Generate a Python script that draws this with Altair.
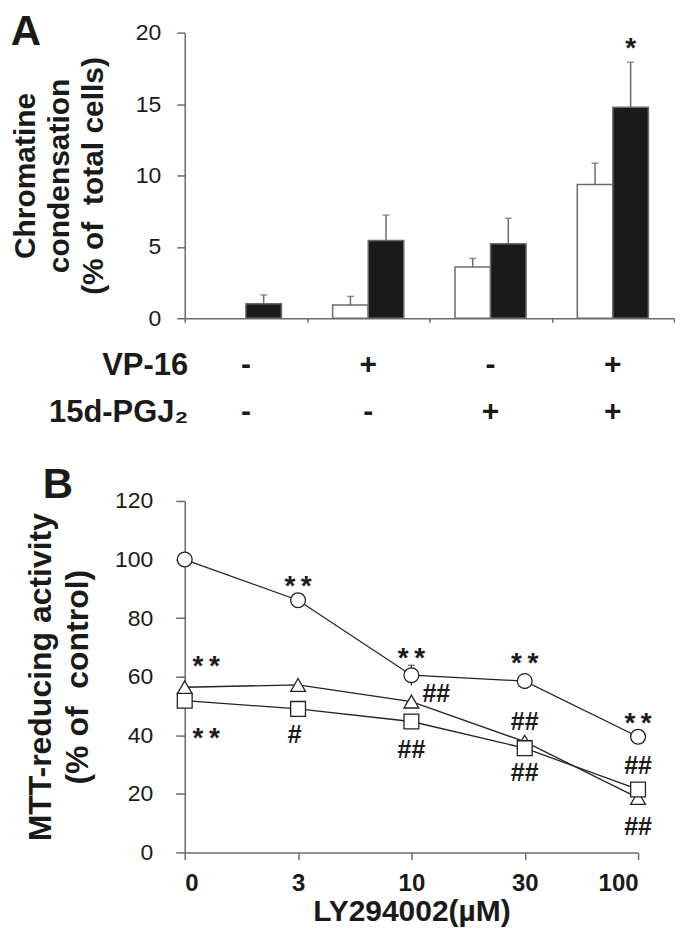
import altair as alt
import pandas as pd

FONT = "Liberation Sans, Arial, Helvetica, sans-serif"
INK = "#1a1a1a"
AXIS_GREY = "#6b6b6b"
NB = "\u00a0"

# ---------------- Panel A data ----------------
groups = ["g1", "g2", "g3", "g4"]
vp16_signs = ["-", "+", "-", "+"]
pgj2_signs = ["-", "-", "+", "+"]
factors = ["VP-16", "15d-PGJ\u2082"]
series_a = ["white", "black"]
white_vals = [None, 0.93, 3.58, 9.37]
white_errs = [None, 0.60, 0.61, 1.49]
black_vals = [1.02, 5.44, 5.21, 14.77]
black_errs = [0.61, 1.79, 1.79, 3.16]
star_a_group = ["g4"]
star_a_series = ["black"]
star_a_y = [19.4]

# ---------------- Panel B data ----------------
doses = ["0", "3", "10", "30", "100"]
series_b = ["circle", "triangle", "square"]
circle_vals = [100.0, 86.1, 60.5, 58.5, 39.5]
triangle_vals = [56.4, 57.2, 51.5, 37.8, 18.6]
square_vals = [51.8, 49.0, 44.7, 35.6, 21.5]
circle_err_idx = [2]
circle_err_lo = [57.0]
circle_err_hi = [63.9]
star_b_text = ["*\u2009*"] * 6
star_b_x = [0.19, 0.19, 1.0, 2.0, 3.0, 4.0]
star_b_y = [66.0, 41.5, 93.3, 68.8, 67.1, 46.6]
hash_b_text = ["#", "##", "##", "##", "##", "##", "##"]
hash_b_x = [0.97, 2.0, 2.22, 3.0, 3.0, 4.0, 4.0]
hash_b_y = [40.4, 35.3, 54.3, 44.9, 27.3, 29.8, 9.1]

# ---------------- tables ----------------
rows = []
for g, wv, we, bv, be in zip(groups, white_vals, white_errs, black_vals, black_errs):
    if wv is not None:
        rows.append({"group": g, "series": "white", "value": wv, "top": wv + we})
    rows.append({"group": g, "series": "black", "value": bv, "top": bv + be})
bars_df = pd.DataFrame(rows)
star_a_df = pd.DataFrame({"group": star_a_group, "series": star_a_series, "value": star_a_y, "t": ["*"]})

table_rows = []
for g, s1, s2 in zip(groups, vp16_signs, pgj2_signs):
    table_rows.append({"group": g, "factor": factors[0], "sign": s1})
    table_rows.append({"group": g, "factor": factors[1], "sign": s2})
table_df = pd.DataFrame(table_rows)

b_rows = []
for name, vals in zip(series_b, [circle_vals, triangle_vals, square_vals]):
    for i, v in enumerate(vals):
        b_rows.append({"series": name, "idx": i, "value": v})
b_df = pd.DataFrame(b_rows)
err_b_df = pd.DataFrame({"idx": circle_err_idx, "lo": circle_err_lo, "hi": circle_err_hi})
star_b_df = pd.DataFrame({"t": star_b_text, "idx": star_b_x, "value": star_b_y})
hash_b_df = pd.DataFrame({"t": hash_b_text, "idx": hash_b_x, "value": hash_b_y})

# ---------------- Panel A chart ----------------
W_A, H_A = 490, 286
x_scale_a = alt.Scale(domain=groups, paddingInner=0, paddingOuter=0)
x_axis_a = alt.Axis(title=None, labels=False, tickBand="extent", tickSize=4,
                    tickColor=AXIS_GREY, tickWidth=1.5, domainColor=AXIS_GREY, domainWidth=1.5)
xoff_a = alt.XOffset("series:N", scale=alt.Scale(domain=series_a, paddingInner=0, paddingOuter=0.72))
y_axis_a = alt.Axis(values=[0, 5, 10, 15, 20],
                    title=["Chromatine", "condensation", "(% of" + NB + " total cells)"],
                    titleFontSize=30, titleFontWeight="bold", titleLineHeight=34, titlePadding=27,
                    labelFontSize=23, labelPadding=16, tickSize=8, tickColor=AXIS_GREY, tickWidth=1.5,
                    domainColor=AXIS_GREY, domainWidth=1.5)
y_scale_a = alt.Scale(domain=[0, 20], nice=False)

bars = alt.Chart(bars_df).mark_bar(stroke=AXIS_GREY, strokeWidth=1.5).encode(
    x=alt.X("group:N", scale=x_scale_a, axis=x_axis_a),
    xOffset=xoff_a,
    y=alt.Y("value:Q", scale=y_scale_a, axis=y_axis_a),
    fill=alt.Fill("series:N", scale=alt.Scale(domain=series_a, range=["#ffffff", INK]), legend=None),
)
err_rules = alt.Chart(bars_df).mark_rule(color=AXIS_GREY, strokeWidth=1.5).encode(
    x=alt.X("group:N", scale=x_scale_a, axis=x_axis_a),
    xOffset=xoff_a,
    y=alt.Y("value:Q", scale=y_scale_a, axis=y_axis_a),
    y2="top:Q",
)
err_caps = alt.Chart(bars_df).mark_tick(color=AXIS_GREY, orient="horizontal", size=7, thickness=1.5).encode(
    x=alt.X("group:N", scale=x_scale_a, axis=x_axis_a),
    xOffset=xoff_a,
    y=alt.Y("top:Q", scale=y_scale_a, axis=y_axis_a),
)
star_a = alt.Chart(star_a_df).mark_text(fontSize=28, fontWeight="bold", font=FONT, color=INK,
                                         baseline="middle", dy=8).encode(
    x=alt.X("group:N", scale=x_scale_a, axis=x_axis_a),
    xOffset=xoff_a,
    y=alt.Y("value:Q", scale=y_scale_a, axis=y_axis_a),
    text="t:N",
)
letter_a = alt.Chart(pd.DataFrame({"t": ["A"]})).mark_text(
    fontSize=42, fontWeight="bold", font=FONT, color=INK, align="center", baseline="alphabetic"
).encode(x=alt.value(-159), y=alt.value(12), text="t:N")

panel_a = alt.layer(bars, err_rules, err_caps, star_a, letter_a).properties(width=W_A, height=H_A)

# ---------------- condition table ----------------
table = alt.Chart(table_df).mark_text(fontSize=30, fontWeight="bold", font=FONT, color=INK).encode(
    x=alt.X("group:N", scale=x_scale_a, axis=None),
    y=alt.Y("factor:N", scale=alt.Scale(type="point", domain=factors, range=[25, 72], padding=0),
            axis=alt.Axis(title=None, domain=False, ticks=False, labelFontSize=31,
                          labelFontWeight="bold", labelPadding=-3, labelColor=INK)),
    text="sign:N",
).properties(width=W_A, height=139)

# ---------------- Panel B chart ----------------
W_B, H_B = 454, 352
x_scale_b = alt.Scale(domain=[0, len(doses) - 1], nice=False, zero=False)
x_axis_b = alt.Axis(values=list(range(len(doses))), labelExpr=f"{doses}[datum.value]",
                    title="LY294002(\u00b5M)", titleFontSize=30, titleFontWeight="bold",
                    titleBaseline="alphabetic", titlePadding=25,
                    labelFontSize=24, labelFontWeight="bold", labelPadding=12, tickSize=7,
                    tickColor=AXIS_GREY, tickWidth=1.5, domainColor=AXIS_GREY, domainWidth=1.5)
y_scale_b = alt.Scale(domain=[0, 120], nice=False)
y_axis_b = alt.Axis(values=list(range(0, 121, 20)),
                    title=["MTT-reducing activity", "(% of" + NB + " control)"],
                    titleFontSize=32, titleFontWeight="bold", titleLineHeight=37, titlePadding=20,
                    labelFontSize=23, labelPadding=23, tickSize=9, tickColor=AXIS_GREY, tickWidth=1.5,
                    domainColor=AXIS_GREY, domainWidth=1.5)

xb = alt.X("idx:Q", scale=x_scale_b, axis=x_axis_b)
yb = alt.Y("value:Q", scale=y_scale_b, axis=y_axis_b)

lines_b = alt.Chart(b_df).mark_line(color="#222222", strokeWidth=1.3).encode(
    x=xb, y=yb, detail="series:N")
err_b = alt.Chart(err_b_df).mark_rule(color="#222222", strokeWidth=1.2).encode(
    x=xb, y=alt.Y("lo:Q", scale=y_scale_b, axis=y_axis_b), y2="hi:Q")
err_b_cap = alt.Chart(err_b_df).mark_tick(color="#222222", orient="horizontal", size=7, thickness=1.2).encode(
    x=xb, y=alt.Y("hi:Q", scale=y_scale_b, axis=y_axis_b))
points_b = alt.Chart(b_df).mark_point(filled=True, fill="white", stroke="#222222", strokeWidth=1.3,
                                      opacity=1, size=220).encode(
    x=xb, y=yb,
    shape=alt.Shape("series:N", scale=alt.Scale(domain=series_b, range=["circle", "triangle-up", "square"]),
                    legend=None),
)
stars_b = alt.Chart(star_b_df).mark_text(fontSize=28, fontWeight="bold", font=FONT, color=INK,
                                         baseline="middle", dy=8).encode(x=xb, y=yb, text="t:N")
hashes_b = alt.Chart(hash_b_df).mark_text(fontSize=25, fontWeight="bold", font=FONT, color=INK,
                                          baseline="middle", dy=1).encode(x=xb, y=yb, text="t:N")
letter_b = alt.Chart(pd.DataFrame({"t": ["B"]})).mark_text(
    fontSize=42, fontWeight="bold", font=FONT, color=INK, align="center", baseline="alphabetic"
).encode(x=alt.value(-127), y=alt.value(-3), text="t:N")

panel_b = alt.layer(lines_b, err_b, err_b_cap, points_b, stars_b, hashes_b, letter_b).properties(
    width=W_B, height=H_B)

chart = alt.vconcat(panel_a, table, panel_b, spacing=22, bounds="flush").resolve_scale(
    x="independent", y="independent"
).properties(padding={"left": 2, "top": 2, "right": 0, "bottom": 0}).configure_view(
    stroke=None
).configure_axis(
    grid=False, labelFont=FONT, titleFont=FONT, labelColor=INK, titleColor=INK
)

chart.save("out.html", embed_options={"renderer": "svg", "actions": False})
